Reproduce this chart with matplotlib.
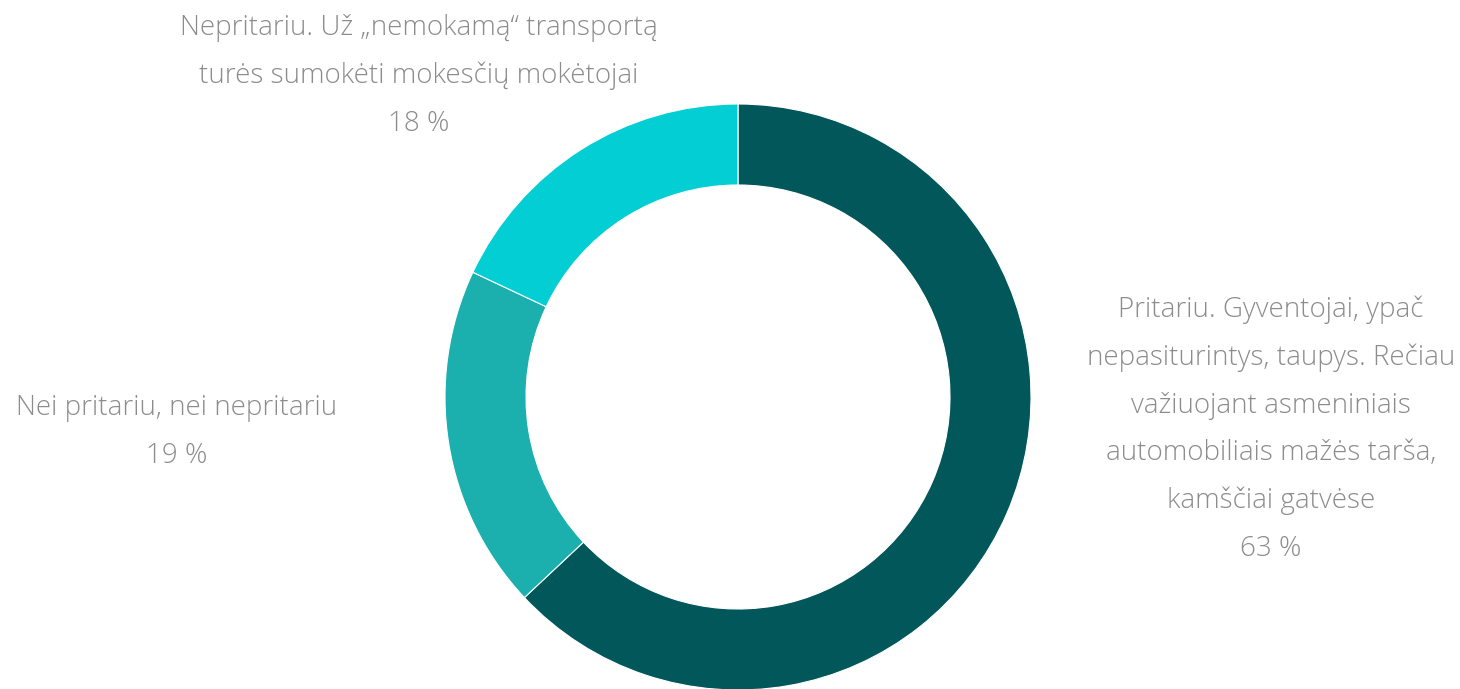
import matplotlib
matplotlib.use("Agg")
import matplotlib.pyplot as plt

# data
labels = [
    ["Pritariu. Gyventojai, ypač", "nepasiturintys, taupys. Rečiau",
     "važiuojant asmeniniais", "automobiliais mažės tarša,",
     "kamščiai gatvėse"],
    ["Nei pritariu, nei nepritariu"],
    ["Nepritariu. Už „nemokamą“ transportą",
     "turės sumokėti mokesčių mokėtojai"],
]
values = [63, 19, 18]
colors = ["#02575B", "#1BB0AE", "#02CED4"]

W, H = 1460, 689
fig = plt.figure(figsize=(W / 100, H / 100), dpi=100)
ax = fig.add_axes([0, 0, 1, 1])

cx, cy = 738, H - 397
r_out, r_in = 293, 212
ax.pie(values, colors=colors, startangle=90, counterclock=False,
       center=(cx, cy), radius=r_out, frame=True,
       wedgeprops=dict(width=r_out - r_in, edgecolor="white", linewidth=0.8))
ax.set_xlim(0, W)
ax.set_ylim(0, H)
ax.set_aspect("equal")
ax.set_axis_off()

# label blocks: center x and baseline of first line (pixels from top)
label_pos = [(1271, 317), (177, 415), (419, 35)]
line_step = 47.8
for lab, val, (x, y0) in zip(labels, values, label_pos):
    lines = lab + [f"{val} %"]
    for i, line in enumerate(lines):
        ax.text(x, H - (y0 + i * line_step), line, ha="center", va="baseline",
                fontsize=20, color="#8C8C8C",
                family=["Open Sans", "DejaVu Sans"], weight="light")

fig.savefig("out.png", dpi=100)
